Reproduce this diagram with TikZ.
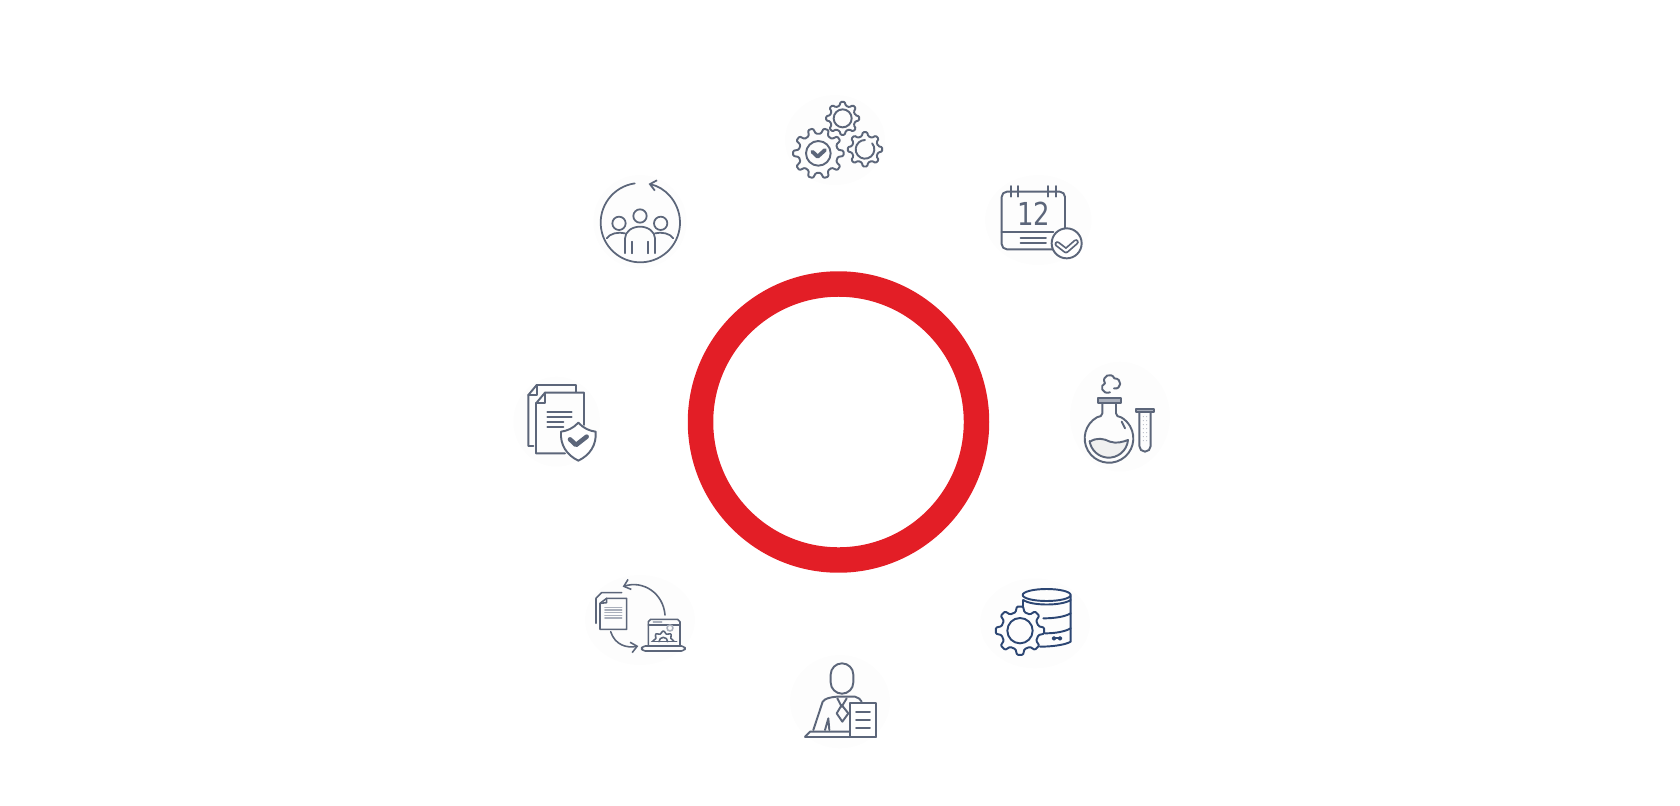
\documentclass[tikz,border=0pt]{standalone}
\usepackage{fontspec}
\newfontfamily\datefont[FakeStretch=0.82]{DejaVu Sans}
\definecolor{ring-red}{RGB}{227,30,38}
\definecolor{icon-slate}{RGB}{92,102,122}
\definecolor{icon-navy}{RGB}{44,70,115}
\definecolor{icon-pale}{RGB}{170,176,188}
\usepackage{tikz}
\usetikzlibrary{arrows.meta}
\newcommand\DrawGear[4]{% centre x, centre y, outer radius, teeth
    \begin{scope}[shift={(#1,#2)}]
      \pgfmathsetmacro\rIn{0.78*#3}
      \pgfmathsetmacro\wBase{0.30*360/#4}
      \pgfmathsetmacro\wTip{0.16*360/#4}
      \draw [rounded corners=.6pt] (-\wBase:\rIn)
        \foreach \t [evaluate=\t as \a using \t*360/#4] in {0,...,\numexpr#4-1\relax} {
          -- ({\a-\wBase}:\rIn) -- ({\a-\wTip}:#3) -- ({\a+\wTip}:#3) -- ({\a+\wBase}:\rIn)
        } -- cycle;
    \end{scope}
  }

\begin{document}
\begin{tikzpicture}[%
            x=0.02cm,y=-0.02cm,
            >={Straight Barb[length=3.5pt,width=6pt]},
            halo/.style={fill=black!0.7,draw=none},
            iconline/.style={draw=icon-slate,line width=1.1pt,line cap=round,line join=round},
            tick/.style={draw=icon-slate,line width=2.2pt,line cap=round,line join=round},
            gears/.pic={%
              \fill [halo] (195,150) ellipse (150 and 135);
              \begin{scope}[iconline]
                \DrawGear{145}{190}{76}{10}
                \DrawGear{218}{85}{50}{8}
                \DrawGear{285}{178}{52}{8}
                \draw (145,190) circle (37);
                \draw (218,85) circle (27);
                \draw (285,178) ++(-40:28) arc (-40:270:28);
              \end{scope}
              \draw [tick] (127,185) -- (143,200) -- (165,180);
            },
            calendar/.pic={%
              \fill [halo] (175,150) ellipse (160 and 135);
              \begin{scope}[iconline]
                \draw [rounded corners=3pt] (65,65) rectangle (255,238);
                \draw (65,185) -- (220,185);
                \foreach \x in {92,115,205,228}
                  \draw (\x,48) -- (\x,80);
                \draw (122,205) -- (198,205);
                \draw (122,218) -- (198,218);
                \filldraw [fill=white] (260,220) circle (45);
              \end{scope}
              \draw [draw=icon-slate,line width=3.2pt,line cap=round,line join=round] (232,222) -- (258,242) -- (288,216);
              \draw [draw=white,line width=1.2pt,line cap=round,line join=round] (232,222) -- (258,242) -- (288,216);
            },
            flask/.pic={%
              \fill [halo] (180,170) ellipse (150 and 165);
              \begin{scope}[iconline]
                \draw (150,97) .. controls (125,105) and (118,75) .. (135,70)
                  .. controls (122,48) and (155,35) .. (163,55)
                  .. controls (188,55) and (185,90) .. (162,85);
                \draw (127,128) -- (127,160) .. controls (127,168) and (120,170) .. (110.5,172)
                  arc (240:-60:73)
                  .. controls (174,170) and (168,168) .. (168,160) -- (168,128);
                \draw (185,185) -- (195,205);
                \filldraw [fill=icon-pale] (115,115) rectangle (182,128);
                \filldraw [fill=black!6] (90,245) .. controls (110,232) and (130,235) .. (150,245)
                  .. controls (170,252) and (190,245) .. (204,240)
                  arc (5:172:58) -- cycle;
                \draw (238,155) -- (238,258) arc (180:0:17) -- (272,155);
                \filldraw [fill=icon-pale] (228,146) rectangle (282,155);
                \foreach \y in {170,182,...,242}
                  \foreach \x in {250,260}
                    \fill [icon-pale] (\x,\y) circle (1.6);
              \end{scope}
            },
            database/.pic={%
              \fill [halo] (180,160) ellipse (165 and 135);
              \begin{scope}[iconline,draw=icon-navy]
                \DrawGear{135}{182}{73}{8}
                \draw (135,182) circle (38);
                \draw (215,75) ellipse (72 and 18);
                \draw (145,90) -- (145,112);
                \draw (145,90) .. controls (170,108) and (260,108) .. (287,90);
                \draw (287,78) -- (287,215) .. controls (270,225) and (230,230) .. (195,230);
                \draw (205,145) .. controls (240,145) and (270,140) .. (287,130);
                \draw (210,190) .. controls (240,190) and (270,185) .. (287,175);
                \draw (237,205) circle (4);
                \draw (255,205) circle (4);
                \draw (241,205) -- (251,205);
              \end{scope}
            },
            clerk/.pic={%
              \fill [halo] (180,155) ellipse (150 and 140);
              \begin{scope}[iconline]
                \draw (152,74) arc (180:360:34) -- (220,97) arc (0:180:34) -- cycle;
                \draw (100,240) -- (128,155) .. controls (135,145) and (150,142) .. (170,140) -- (225,140)
                  .. controls (235,142) and (242,148) .. (245,155);
                \draw (172,145) -- (185,170) -- (200,145);
                \draw (185,165) -- (170,190) -- (187,215) -- (205,190) -- cycle;
                \draw (135,240) -- (145,205) -- (148,240);
                \draw (75,260) -- (90,245) -- (210,245);
                \draw (75,260) -- (288,260);
                \filldraw [fill=white] (210,160) rectangle (288,260);
                \draw (228,185) -- (270,185);
                \draw (228,210) -- (270,210);
                \draw (228,235) -- (270,235);
              \end{scope}
            },
            migration/.pic={%
              \fill [halo] (180,150) ellipse (165 and 135);
              \begin{scope}[iconline,line width=.9pt]
                \draw (48,85) -- (48,160) (48,85) -- (65,68) -- (125,68);
                \draw (60,100) -- (80,85) -- (140,85) -- (140,178) -- (60,178) -- cycle;
                \draw (80,85) -- (80,98) -- (60,100);
                \foreach \y in {112,120,...,144}
                  \draw [icon-pale] (75,\y) -- (125,\y);
                \draw [->] (255,135) .. controls (250,70) and (190,30) .. (128,50);
                \draw [->] (92,185) .. controls (105,225) and (140,235) .. (175,228);
                \draw (205,228) -- (205,155) -- (212,148) -- (293,148) -- (300,155) -- (300,228);
                \draw (205,165) -- (300,165);
                \draw [icon-pale] (220,156) -- (245,156);
                \draw [rounded corners=2pt] (185,228) rectangle (315,243);
                \begin{scope}
                  \clip (205,165) rectangle (300,215);
                  \DrawGear{250}{215}{32}{8}
                \end{scope}
                \draw (237,215) arc (180:360:13);
                \draw (215,215) -- (290,215);
                \draw [icon-pale] (270,174) circle (9);
              \end{scope}
            },
            dossier/.pic={%
              \fill [halo] (140,155) ellipse (130 and 135);
              \begin{scope}[iconline]
                \draw (198,65) -- (198,45) -- (80,45) -- (55,75) -- (55,228) -- (70,228);
                \draw (80,45) -- (80,75) -- (55,75);
                \draw (222,165) -- (222,68) -- (105,68) -- (78,100) -- (78,250) -- (165,250);
                \draw (105,68) -- (105,100) -- (78,100);
                \draw (112,125) -- (185,125);
                \draw (112,140) -- (185,140);
                \draw (112,155) -- (160,155);
                \draw (112,170) -- (160,170);
                \filldraw [fill=white] (205,158) .. controls (220,175) and (240,183) .. (257,185)
                  .. controls (260,225) and (240,255) .. (205,272)
                  .. controls (170,255) and (150,225) .. (153,185)
                  .. controls (170,183) and (190,175) .. cycle;
              \end{scope}
              \draw [tick,line width=2.6pt] (180,208) -- (198,225) -- (230,200);
            },
            team/.pic={%
              \fill [halo] (150,155) ellipse (140 and 140);
              \begin{scope}[iconline,line width=1pt]
                \draw [->] (151,158) ++(262:119) arc (262:-78:119);
                \draw (150,138) circle (20);
                \draw (105,250) -- (105,205) arc (180:360:45 and 35) -- (195,250);
                \draw (125,215) -- (125,250);
                \draw (175,215) -- (175,250);
                \draw (87,160) circle (20);
                \draw (50,205) .. controls (60,190) and (85,185) .. (105,190);
                \draw (212,160) circle (20);
                \draw (195,190) .. controls (215,185) and (240,190) .. (250,205);
              \end{scope}
            }
          ]
            \useasboundingbox (0,0) rectangle (1680,805);
            \def\R{138}

            \draw [ring-red,line width=14.5pt] (838.5,422) circle (\R);

            \pic [scale=1/3] at (770,90) {gears};
            \pic [scale=1/3] at (980,170) {calendar};
            \pic [scale=1/3] at (1060,360) {flask};
            \pic [scale=1/3] at (975,570) {database};
            \pic [scale=1/3] at (780,650) {clerk};
            \pic [scale=1/3] at (580,570) {migration};
            \pic [scale=1/3] at (510,370) {dossier};
            \pic [scale=1/3] at (590,170) {team};

            \node [text=icon-slate,font=\datefont\fontsize{18}{18}\selectfont] (date) at (1033.5,214) {12};
          \end{tikzpicture}
\end{document}
